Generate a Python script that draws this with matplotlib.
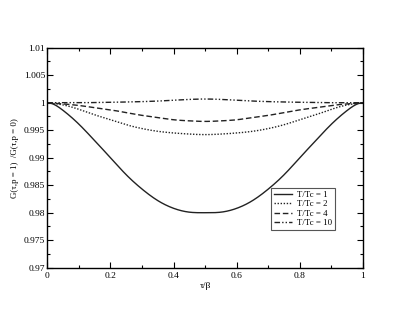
import matplotlib
matplotlib.use("Agg")
import matplotlib.pyplot as plt
import numpy as np
from matplotlib.ticker import MultipleLocator

# tau/beta sample points (first half; curves are symmetric about 0.5)
x_half = [0.0, 0.05, 0.1, 0.15, 0.2, 0.25, 0.3, 0.35, 0.4, 0.45, 0.5]
g_tc1 = [1.0, 0.9986, 0.9961, 0.9931, 0.9900, 0.9869, 0.9843, 0.9822, 0.9808, 0.9801, 0.9800]
g_tc2 = [1.0, 0.9996, 0.9988, 0.9978, 0.9969, 0.9960, 0.9953, 0.9948, 0.9945, 0.9943, 0.9942]
g_tc4 = [1.0, 0.99978, 0.9995, 0.9991, 0.9987, 0.9982, 0.9977, 0.9973, 0.9969, 0.9967, 0.9966]
g_tc10 = [1.0, 1.0, 1.0, 1.00003, 1.00008, 1.00013, 1.0002, 1.0003, 1.00045, 1.0006, 1.00067]
labels = ["T/Tc = 1", "T/Tc = 2", "T/Tc = 4", "T/Tc = 10"]
end_slopes = [0.0, None, None, 0.0]


def mirror(xs, ys):
    xs = np.array(xs, float); ys = np.array(ys, float)
    xf = np.concatenate([xs, 1 - xs[-2::-1]])
    yf = np.concatenate([ys, ys[-2::-1]])
    return xf, yf


def spline(xf, yf, xd, slope=None):
    n = len(xf)
    h = np.diff(xf)
    A = np.zeros((n, n)); b = np.zeros(n)
    if slope is None:
        A[0, 0] = 1; A[-1, -1] = 1
    else:
        A[0, 0] = 2 * h[0]; A[0, 1] = h[0]
        b[0] = 6 * ((yf[1] - yf[0]) / h[0] - slope)
        A[-1, -2] = h[-1]; A[-1, -1] = 2 * h[-1]
        b[-1] = 6 * (-slope - (yf[-1] - yf[-2]) / h[-1])
    for i in range(1, n - 1):
        A[i, i - 1] = h[i - 1]; A[i, i] = 2 * (h[i - 1] + h[i]); A[i, i + 1] = h[i]
        b[i] = 6 * ((yf[i + 1] - yf[i]) / h[i] - (yf[i] - yf[i - 1]) / h[i - 1])
    M = np.linalg.solve(A, b)
    idx = np.clip(np.searchsorted(xf, xd) - 1, 0, n - 2)
    x0 = xf[idx]; x1 = xf[idx + 1]; hh = x1 - x0
    t0 = x1 - xd; t1 = xd - x0
    return (M[idx] * t0**3 + M[idx + 1] * t1**3) / (6 * hh) + \
        (yf[idx] / hh - M[idx] * hh / 6) * t0 + (yf[idx + 1] / hh - M[idx + 1] * hh / 6) * t1


plt.rcParams['font.family'] = ['Liberation Serif', 'DejaVu Serif']
fig = plt.figure(figsize=(4.09, 3.16), dpi=100)
ax = fig.add_axes([0.1157, 0.1528, 0.7718, 0.6962])

styles = ['-', (0, (1, 1.2)), (0, (4, 2)), (0, (4, 1.5, 1, 1.5, 1, 1.5))]
xd = np.linspace(0, 1, 601)
for ys, lab, ls, sl in zip([g_tc1, g_tc2, g_tc4, g_tc10], labels, styles, end_slopes):
    xf, yf = mirror(x_half, ys)
    yd = spline(xf, yf, xd, sl)
    ax.plot(xd, yd, color='#222222', lw=1.0, linestyle=ls, label=lab)

ax.set_xlim(0, 1)
ax.set_ylim(0.97, 1.01)
ax.xaxis.set_minor_locator(MultipleLocator(0.1))
ax.yaxis.set_minor_locator(MultipleLocator(0.0025))
ax.set_xticks([0, 0.2, 0.4, 0.6, 0.8, 1])
ax.set_xticklabels(['0', '0.2', '0.4', '0.6', '0.8', '1'])
ax.set_yticks([0.97, 0.975, 0.98, 0.985, 0.99, 0.995, 1.0, 1.005, 1.01])
ax.set_yticklabels(['0.97', '0.975', '0.98', '0.985', '0.99', '0.995', '1', '1.005', '1.01'])
ax.tick_params(which='both', direction='in', top=True, right=True, labelsize=6.8)
ax.tick_params(axis='x', which='major', pad=3)
ax.tick_params(axis='y', which='major', pad=1.5)
ax.tick_params(which='major', length=4, width=0.8)
ax.tick_params(which='minor', length=2, width=0.8)
for s in ax.spines.values():
    s.set_linewidth(1.0)

ax.set_xlabel('τ/β', fontsize=6.8, labelpad=1.5)
ax.set_ylabel('G(τ,p = 1)  /G(τ,p = 0)', fontsize=6.4, labelpad=3.5)

leg = ax.legend(loc='lower right', bbox_to_anchor=(0.911, 0.171), fontsize=6.4,
                frameon=True, fancybox=False, edgecolor='#555555', framealpha=1,
                handlelength=2.0, handletextpad=0.6, borderpad=0.3, labelspacing=0.15,
                borderaxespad=0)
leg.get_frame().set_linewidth(0.8)

fig.savefig('out.png', dpi=100)
